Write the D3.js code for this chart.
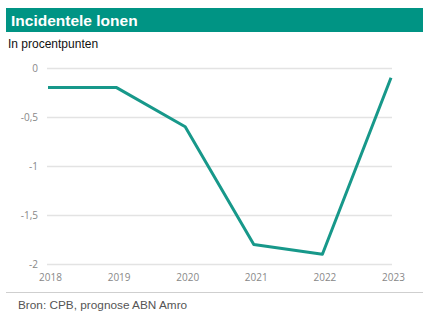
<!DOCTYPE html>
<html>
<head>
<meta charset="utf-8">
<script src="https://cdn.jsdelivr.net/npm/d3@7"></script>
<style>
  html, body { margin: 0; padding: 0; background: #fff; }
  svg { display: block; }
</style>
</head>
<body>
<script>
// Incidentele lonen, bijdrage in procentpunten
const years = ["2018", "2019", "2020", "2021", "2022", "2023"];
const values = [-0.2, -0.2, -0.6, -1.8, -1.9, -0.1];
const yTicks = [0, -0.5, -1, -1.5, -2];
const yTickLabels = ["0", "-0,5", "-1", "-1,5", "-2"];

const W = 434, H = 322;
const teal = "#009484";

const svg = d3.select("body").append("svg")
  .attr("width", W).attr("height", H);

// Titelbalk
svg.append("rect")
  .attr("x", 6).attr("y", 8).attr("width", 417).attr("height", 24)
  .attr("fill", teal);
svg.append("text")
  .attr("x", 11).attr("y", 26)
  .attr("font-family", "Liberation Sans, Arial, sans-serif")
  .attr("font-weight", "bold").attr("font-size", 15.5)
  .attr("fill", "#fff")
  .text("Incidentele lonen");

svg.append("text")
  .attr("x", 8).attr("y", 48)
  .attr("font-family", "Liberation Sans, Arial, sans-serif")
  .attr("font-size", 12).attr("fill", "#111")
  .text("In procentpunten");

const x = d3.scalePoint().domain(years).range([48, 391]);
const y = d3.scaleLinear().domain([-2, 0]).range([264, 68]);

// Rasterlijnen en y-as
const yAxis = d3.axisLeft(y)
  .tickValues(yTicks)
  .tickSize(-(392 - 47))
  .tickFormat((d, i) => yTickLabels[i]);
const gy = svg.append("g").attr("transform", "translate(47,0)").call(yAxis);
gy.select(".domain").remove();
gy.selectAll(".tick line").attr("stroke", "#e3e3e3").attr("stroke-width", 1.5);
gy.selectAll(".tick text")
  .attr("x", -9)
  .attr("font-family", "Open Sans, Liberation Sans, sans-serif")
  .attr("font-size", 10).attr("fill", "#888");

// x-as
const xAxis = d3.axisBottom(x).tickSize(0).tickPadding(10);
const gx = svg.append("g").attr("transform", "translate(2,264)").call(xAxis);
gx.select(".domain").remove();
gx.selectAll(".tick text")
  .attr("font-family", "Open Sans, Liberation Sans, sans-serif")
  .attr("font-size", 10).attr("fill", "#888");

// Lijn
const line = d3.line()
  .x((d, i) => x(years[i]))
  .y(d => y(d));
svg.append("path")
  .datum(values)
  .attr("d", line)
  .attr("fill", "none")
  .attr("stroke", "#17988a")
  .attr("stroke-width", 3)
  .attr("stroke-linejoin", "round");

// Scheidingslijn en bron
svg.append("line")
  .attr("x1", 6).attr("x2", 423).attr("y1", 292.5).attr("y2", 292.5)
  .attr("stroke", "#cfcfcf").attr("stroke-width", 1);
svg.append("text")
  .attr("x", 18).attr("y", 309)
  .attr("font-family", "Liberation Sans, Arial, sans-serif")
  .attr("font-size", 11.8).attr("fill", "#555")
  .text("Bron: CPB, prognose ABN Amro");
</script>
</body>
</html>
